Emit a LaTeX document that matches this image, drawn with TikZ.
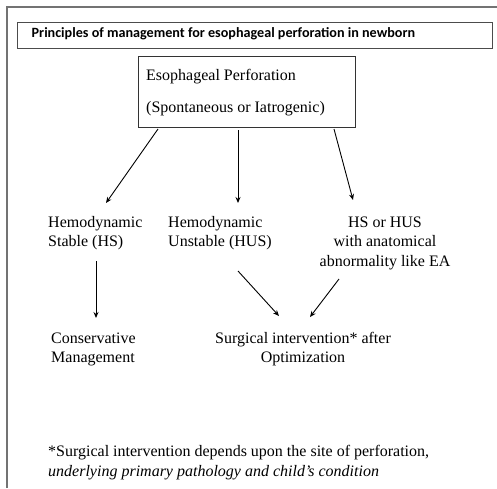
\documentclass[tikz,border=0pt]{standalone}
\usepackage{fontspec}
\setmainfont{Liberation Serif}
\newfontfamily\titlefont{Carlito}
\usetikzlibrary{arrows.meta}
\begin{document}
\begin{tikzpicture}[x=1pt,y=-1pt,
  txt/.style={font=\fontsize{16}{19.5}\selectfont, inner sep=0pt, anchor=base west},
  arr/.style={-{Stealth[length=6pt,width=5pt]}, line width=0.9pt},
  frame/.style={draw=black!55, line width=1.4pt}]
\useasboundingbox (0,0) rectangle (497,488);
\draw[frame] (7,488) -- (7,7) -- (497,7);
\node[draw=black!70, line width=1.2pt, minimum width=475pt, minimum height=26pt, anchor=north west, inner sep=0pt] (titlebox) at (17,22) {};
\node[font=\titlefont\bfseries\fontsize{14.15}{16}\selectfont, inner sep=0pt, anchor=base west] (title) at (31.5,37.5) {Principles of management for esophageal perforation in newborn};
\node[draw=black!80, line width=1.1pt, minimum width=217pt, minimum height=71pt, anchor=north west, inner sep=0pt] (perfbox) at (138,56) {};
\node[txt, align=left, font=\fontsize{16}{32}\selectfont] (perf) at (146,112) {Esophageal Perforation\\(Spontaneous or Iatrogenic)};
\node[txt, align=left] (hs) at (48,246.5) {Hemodynamic\\Stable (HS)};
\node[txt, align=left] (hus) at (168,246.5) {Hemodynamic\\Unstable (HUS)};
\node[txt, align=center, anchor=base] (ea) at (385,266) {HS or HUS\\with anatomical\\abnormality like EA};
\node[txt, align=left] (cons) at (51,362.5) {Conservative\\Management};
\node[txt, align=center, anchor=base] (surg) at (303,362.5) {Surgical intervention* after\\Optimization};
\node[txt, align=left] (note) at (48,476) {*Surgical intervention depends upon the site of perforation,\\\textit{underlying primary pathology and child's condition}};
\coordinate (p1) at (158,129); \coordinate (hsTop) at (106,203);
\coordinate (p2) at (238,130); \coordinate (husTop) at (238,203);
\coordinate (p3) at (334,129); \coordinate (eaTop) at (353,200);
\coordinate (hsBot) at (96,261); \coordinate (consTop) at (96,318);
\coordinate (husBot) at (238,271); \coordinate (surgTopL) at (279,316);
\coordinate (eaBot) at (339,279); \coordinate (surgTopR) at (310,317);
\draw[arr] (p1) -- (hsTop);
\draw[arr] (p2) -- (husTop);
\draw[arr] (p3) -- (eaTop);
\draw[arr] (hsBot) -- (consTop);
\draw[arr] (husBot) -- (surgTopL);
\draw[arr] (eaBot) -- (surgTopR);
\end{tikzpicture}
\end{document}
